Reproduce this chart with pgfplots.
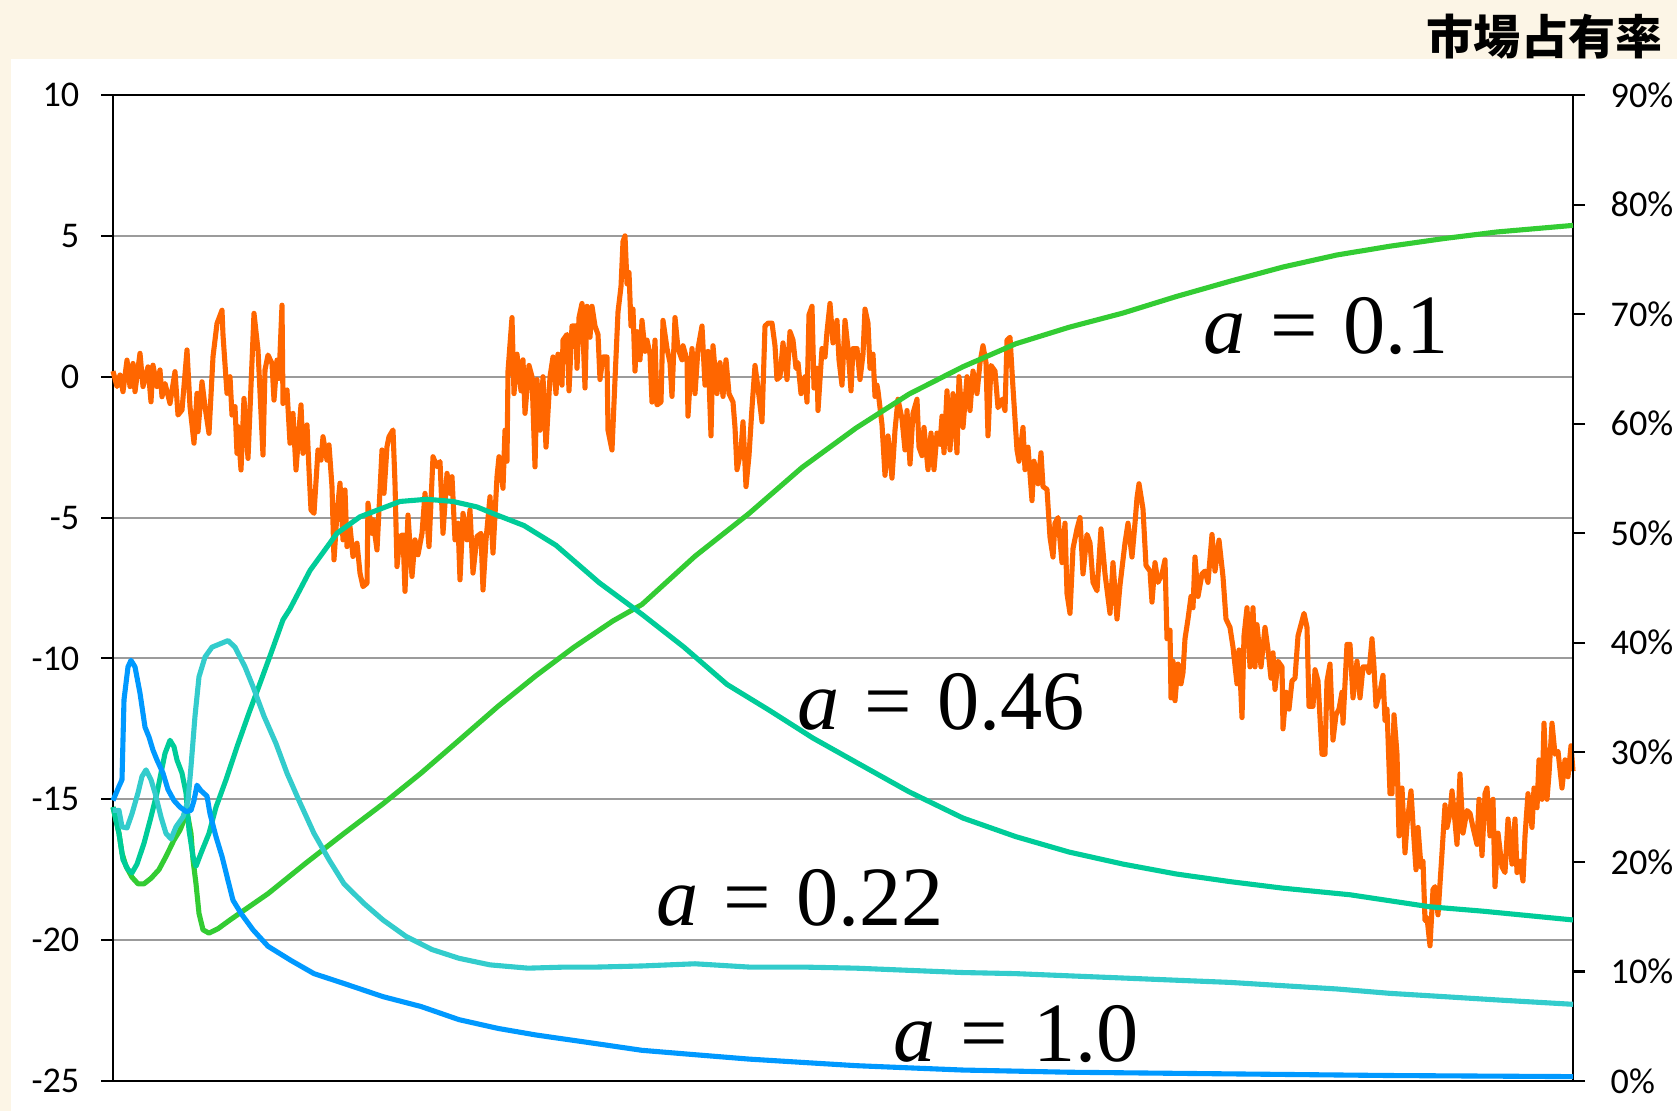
\documentclass[border=0pt]{standalone}
\usepackage{fontspec}
\setmainfont{Carlito}
\newfontfamily\jpfont{Noto Sans CJK JP}
\newfontfamily\tnr{Liberation Serif}
\usepackage{pgfplots}
\pgfplotsset{compat=1.18}

\definecolor{bgcream}{RGB}{252,245,230}
\definecolor{cOrange}{RGB}{255,102,0}
\definecolor{cGreen}{RGB}{51,204,51}
\definecolor{cTeal}{RGB}{0,204,153}
\definecolor{cAqua}{RGB}{51,204,204}
\definecolor{cBlue}{RGB}{0,153,255}
\definecolor{gridgray}{RGB}{155,155,155}

\newcommand{\alab}[1]{\fontsize{24}{28}\selectfont\tnr\textit{a}\hspace{0.3em}=\hspace{0.3em}#1}

\pgfplotsset{
  frame/.style={
    at={(11.3mm,3mm)}, anchor=south west, scale only axis,
    width=146mm, height=98.6mm, xmin=0, xmax=1460, xtick=\empty,
    axis line style={black, line width=0.6pt},
    tick style={black, line width=0.6pt},
    tick align=outside, major tick length=1.2mm,
    ticklabel style={font=\fontsize{10.3}{12}\selectfont},
    clip=false,
  },
  curve/.style={line width=1.45pt, line join=round, mark=none},
}

\begin{document}
\begin{tikzpicture}
\fill[bgcream] (0,0) rectangle (167.7mm,111.1mm);
\fill[white] (1.1mm,0) rectangle (167.7mm,105.2mm);
\node[anchor=east, inner sep=0pt, font={\fontsize{13.4}{16}\selectfont\jpfont\bfseries}] at (166.3mm,107.4mm) {市場占有率};

% left axis: orange series
\begin{axis}[frame,
  ymin=-25, ymax=10, ytick={-25,-20,...,10},
  yticklabels={-25,-20,-15,-10,-5,0,5,10},
  ytick pos=left, ymajorgrids,
  grid style={gridgray, line width=0.6pt},
  yticklabel style={inner sep=0pt, xshift=-2.1mm},
]
\addplot[curve, cOrange] coordinates {
(0,0.2)(4,-0.35)(7,0.06)(10,-0.53)(14,0.59)(17,-0.35)(20,0.47)(22,-0.53)(27,0.83)(30,-0.35)(35,0.35)(38,-0.89)(40,0.41)(44,-0.35)(47,0.24)(49,-0.71)(52,-0.24)(57,-0.95)(62,0.18)(65,-1.36)(69,-1.18)(74,0.95)(77,-1.06)(81,-2.36)(84,-0.59)(85,-1.95)(89,-0.18)(92,-1.06)(96,-2.01)(100,0.71)(104,1.89)(109,2.36)(110,1.48)(114,-0.59)(117,0)(119,-1.36)(122,-1.06)(124,-2.72)(125,-1.77)(128,-3.31)(131,-0.77)(135,-2.90)(141,2.25)(145,0.95)(150,-2.78)(152,0.24)(155,0.77)(159,0.47)(161,-0.83)(164,0.59)(166,-0.06)(169,2.54)(170,-0.95)(174,-0.47)(177,-2.36)(180,-1.30)(183,-3.31)(185,-2.36)(188,-1.00)(190,-2.72)(194,-1.71)(196,-3.31)(198,-4.73)(201,-4.85)(205,-2.60)(208,-2.96)(210,-2.13)(214,-2.96)(216,-2.42)(219,-3.90)(221,-6.50)(224,-4.85)(227,-3.78)(230,-5.79)(232,-4.02)(234,-6.03)(237,-5.32)(240,-6.38)(244,-5.91)(247,-6.97)(250,-7.45)(254,-7.33)(255,-4.49)(259,-5.56)(260,-5.08)(264,-6.15)(266,-4.73)(269,-2.60)(271,-4.14)(274,-2.48)(276,-2.13)(280,-1.89)(282,-3.78)(284,-6.74)(287,-5.67)(290,-5.61)(292,-7.62)(295,-4.91)(299,-7.09)(302,-5.79)(305,-6.32)(309,-5.56)(312,-4.14)(316,-6.03)(320,-2.84)(324,-3.19)(327,-3.01)(330,-5.56)(334,-3.43)(337,-4.14)(339,-3.55)(342,-5.79)(345,-5.20)(347,-7.21)(350,-4.85)(354,-5.79)(357,-4.73)(360,-6.97)(364,-5.67)(368,-5.56)(370,-7.57)(373,-5.79)(377,-4.26)(380,-6.26)(384,-3.55)(386,-2.84)(390,-3.96)
(392,-1.9)(394,-3.0)(395,0.2)(399,2.1)(401,-0.6)(404,0.8)(408,-0.5)(410,0.6)(412,-1.3)(416,0.4)(419,0)(422,-3.2)(424,-0.1)(427,-1.9)(430,0)(433,-2.5)(437,0)(440,0.7)(443,-0.6)(445,0.8)(449,-0.3)(450,1.3)(454,1.5)(456,-0.5)(459,1.8)(463,1.8)(464,0.3)(466,2.1)(469,2.6)(472,-0.4)(474,2.5)(477,1.4)(479,2.5)(482,1.8)(485,1.5)(487,-0.1)(490,0.7)(494,0.7)(495,-1.9)(499,-2.6)(502,-0.1)(505,2.3)(508,3.2)(510,4.8)(512,5.0)(514,3.3)(516,3.7)(518,1.8)(520,2.4)(522,0.2)(524,1.6)(527,0.6)(529,2.0)(532,0.9)(534,1.3)(537,0.8)(539,-0.9)(542,1.3)(544,-1.0)(548,-0.9)(550,2.0)(554,1.0)(557,0.5)(559,-0.7)(562,2.1)(565,1.0)(569,0.6)(570,1.1)(574,0.6)(575,-1.4)(579,1.0)(582,-0.6)(585,1.0)(589,1.8)(592,-0.3)(595,0.9)(598,-2.1)(600,1.1)(604,-0.6)(607,0.5)(610,-0.7)(613,0.6)(616,-0.6)(620,-0.9)(622,-1.8)(624,-3.3)(628,-2.6)(630,-1.6)(633,-3.9)(636,-2.8)(639,-1.1)(642,0.4)(645,-0.4)(649,-1.6)(652,1.8)(655,1.9)(659,1.9)(662,1.1)(664,-0.1)(667,0)(670,1.2)(674,-0.1)(677,1.6)(680,1.3)(683,0.3)(685,0.5)(688,-0.6)(692,0)(694,-0.9)(696,2.2)(699,2.5)(701,-0.4)(704,0.3)(705,-1.2)(709,1.0)(712,0.7)(714,1.6)(717,2.6)(720,1.2)(724,2.0)(726,0.6)(729,-0.3)(732,2.0)(735,1.0)(738,-0.5)(740,1.0)(744,1.0)(747,-0.1)(750,0.8)(752,2.4)(755,1.9)(757,0.3)(760,0.8)(762,-0.7)(764,-0.3)
(765,-0.5)(769,-1.7)(772,-3.5)(775,-2.1)(779,-3.6)(782,-1.9)(785,-0.8)(789,-1.5)(792,-2.6)(794,-1.2)(797,-3.1)(800,-1.3)(804,-0.8)(806,-2.5)(809,-2.8)(811,-1.8)(815,-3.3)(818,-2.0)(821,-3.3)(824,-2.0)(827,-2.4)(829,-1.4)(831,-2.7)(834,-0.5)(837,-2.6)(840,-0.6)(844,-2.7)(846,0)(850,-1.8)(854,0)(857,-1.2)(860,0.2)(864,-0.6)(867,0.5)(870,1.1)(873,0.5)(875,-2.1)(878,0.4)(882,0.2)(885,-1.1)(889,-0.8)(892,-1.2)(894,1.3)(897,1.4)(900,-0.4)(904,-2.6)(906,-3.0)(910,-1.8)(912,-3.3)(915,-2.5)(919,-4.4)(921,-3.0)(925,-3.8)(928,-2.7)(930,-3.9)(934,-4.0)(937,-5.7)(940,-6.4)(942,-5.2)(945,-5.0)(949,-6.6)(952,-5.2)(954,-7.7)(957,-8.4)(960,-6.1)(964,-5.4)(967,-5.0)(970,-7.0)(974,-5.6)(977,-5.9)(980,-7.3)(984,-7.6)(988,-5.4)(992,-7.0)(997,-8.4)(1000,-6.6)(1004,-8.6)(1007,-7.4)(1012,-5.9)(1015,-5.2)(1019,-6.4)(1022,-5.2)(1024,-4.3)(1026,-3.8)(1030,-4.7)(1033,-6.7)(1037,-6.9)(1039,-8.0)(1042,-6.6)(1045,-7.3)(1049,-7.0)(1052,-6.5)
(1054,-9.3)(1057,-9.0)(1058,-11.4)(1060,-10.1)(1062,-11.5)(1065,-10.2)(1068,-10.9)(1070,-10.5)(1072,-9.3)(1075,-8.6)(1078,-7.8)(1080,-8.2)(1082,-6.4)(1085,-7.8)(1089,-7.0)(1092,-6.9)(1095,-7.3)(1099,-5.6)(1102,-6.9)(1106,-5.8)(1110,-7.1)(1113,-8.6)(1117,-8.9)(1120,-9.6)(1124,-10.9)(1126,-9.7)(1129,-12.1)(1131,-9.2)(1134,-8.2)
(1137,-10.3)(1140,-8.2)(1142,-10.3)(1144,-8.8)(1148,-10.3)(1152,-8.9)(1155,-9.7)(1158,-10.7)(1160,-9.8)(1162,-11.1)(1165,-10.1)(1169,-10.3)(1170,-12.5)(1173,-11.2)(1176,-11.8)(1179,-10.8)(1182,-10.7)(1185,-9.2)(1188,-8.8)(1191,-8.4)(1194,-8.9)(1196,-11.7)(1200,-11.7)(1202,-10.4)(1205,-10.8)(1209,-13.4)(1212,-13.4)(1214,-10.8)(1217,-10.2)(1220,-12.9)(1223,-12.0)(1226,-11.8)(1229,-11.2)(1230,-12.3)(1234,-9.5)(1237,-9.5)(1240,-11.4)(1244,-10.1)(1247,-11.4)(1250,-10.3)(1254,-10.3)(1256,-10.5)(1259,-9.3)(1261,-10.3)(1263,-11.7)(1267,-11.2)(1270,-10.6)(1272,-12.2)(1274,-11.8)(1277,-14.8)(1279,-14.8)(1281,-12.0)(1284,-13.4)(1286,-16.3)(1289,-14.6)(1292,-16.9)(1294,-15.9)(1298,-14.7)(1300,-15.9)(1303,-17.5)(1305,-16.0)(1308,-17.4)(1310,-17.2)(1312,-19.3)(1314,-19.2)(1317,-20.2)(1320,-18.2)(1322,-18.1)(1325,-19.1)(1329,-16.9)(1332,-15.2)(1334,-16.0)(1337,-15.5)(1339,-14.7)(1341,-15.4)(1344,-16.6)(1347,-14.1)(1350,-16.2)(1354,-15.4)(1357,-15.5)(1360,-16.0)(1364,-16.6)(1366,-15.0)(1369,-17.0)(1372,-14.8)(1374,-14.6)(1377,-16.3)(1380,-15.0)(1382,-18.1)(1385,-16.2)(1389,-17.4)(1392,-17.6)(1395,-15.7)(1399,-17.3)(1402,-15.7)(1404,-17.6)(1407,-17.2)(1410,-17.9)(1412,-16.3)(1415,-14.8)(1419,-16.0)(1421,-14.6)(1424,-15.3)(1426,-13.6)(1429,-15.0)(1431,-12.3)(1434,-15.0)(1436,-14.1)(1439,-12.3)(1442,-13.4)(1445,-13.3)(1449,-14.6)(1452,-13.6)(1455,-14.2)(1458,-13.1)(1460,-14.0)
};
\end{axis}

% right axis: market share
\begin{axis}[frame,
  ymin=0, ymax=90, ytick={0,10,...,90},
  yticklabels={0\%,10\%,20\%,30\%,40\%,50\%,60\%,70\%,80\%,90\%},
  axis x line=none, axis y line*=right,
  yticklabel style={inner sep=0pt, xshift=2.5mm},
]
\addplot[curve, cGreen] coordinates {
(0,25.0)(6,22.6)(9,20.8)(13,19.6)(19,18.6)(25,18.0)(31,18.0)(38,18.5)(46,19.3)(53,20.5)(61,22.0)(67,22.9)(71,23.8)(75,24.1)(78,22.6)(80,20.2)(83,18.0)(86,15.3)(90,13.8)(96,13.5)(105,13.9)(117,14.7)(136,15.9)(155,17.1)(193,19.9)(231,22.6)(270,25.3)(308,28.1)(346,31.1)(385,34.2)(423,37.0)(461,39.6)(500,42.0)(529,43.5)(582,47.9)(636,51.8)(689,56.0)(743,59.6)(796,62.7)(850,65.2)(903,67.3)(956,68.8)(1010,70.1)(1063,71.6)(1117,73.0)(1170,74.3)(1224,75.4)(1277,76.2)(1331,76.9)(1384,77.5)(1460,78.1)
};
\addplot[curve, cTeal] coordinates {
(0,25.0)(6,22.6)(10,20.2)(15,19.3)(19,19.0)(24,19.8)(31,21.7)(38,24.1)(44,26.3)(48,28.1)(52,29.9)(57,31.1)(61,30.5)(64,29.3)(69,28.1)(73,26.3)(76,22.9)(80,20.5)(83,19.6)(88,20.8)(96,22.6)(103,25.0)(113,27.5)(124,30.5)(136,33.6)(147,36.3)(159,39.3)(170,42.1)(177,43.1)(197,46.6)(224,50.0)(247,51.5)(264,52.1)(287,52.9)(314,53.1)(340,52.9)(364,52.4)(380,51.8)(397,51.2)(411,50.7)(443,48.9)(486,45.5)(529,42.6)(571,39.6)(614,36.2)(657,33.8)(700,31.3)(743,29.1)(796,26.4)(850,24.0)(903,22.3)(956,20.9)(1010,19.8)(1063,18.9)(1117,18.2)(1170,17.6)(1237,17.0)(1317,15.9)(1370,15.5)(1460,14.7)
};
\addplot[curve, cAqua] coordinates {
(0,24.7)(6,24.7)(9,23.2)(14,23.1)(19,24.4)(25,26.3)(29,27.8)(33,28.4)(38,27.5)(42,26.3)(48,24.1)(53,22.6)(58,22.1)(63,23.2)(70,24.1)(75,25.6)(78,28.7)(82,33.3)(86,36.9)(92,38.7)(99,39.6)(107,39.9)(115,40.2)(122,39.6)(132,37.8)(140,36.0)(151,33.3)(163,30.8)(174,28.1)(186,25.6)(201,22.6)(216,20.2)(231,18.0)(251,16.2)(270,14.7)(293,13.2)(319,12.0)(346,11.2)(377,10.6)(415,10.3)(453,10.4)(484,10.4)(529,10.5)(582,10.7)(636,10.4)(689,10.4)(743,10.3)(796,10.1)(850,9.9)(903,9.8)(956,9.6)(1010,9.4)(1063,9.2)(1117,9.0)(1170,8.7)(1224,8.4)(1277,8.0)(1331,7.7)(1384,7.4)(1460,7.0)
};
\addplot[curve, cBlue] coordinates {
(0,25.6)(6,26.9)(9,27.5)(11,34.8)(15,37.8)(18,38.4)(22,37.8)(27,35.4)(32,32.3)(36,31.4)(40,30.2)(44,29.3)(50,28.1)(55,26.6)(61,25.6)(67,25.0)(73,24.6)(78,24.7)(81,25.6)(84,27.0)(88,26.5)(94,26.0)(97,24.4)(103,22.3)(109,20.5)(115,18.3)(120,16.5)(128,15.3)(140,13.8)(155,12.3)(178,11.0)(201,9.8)(231,8.9)(270,7.7)(308,6.8)(346,5.6)(385,4.8)(423,4.2)(484,3.4)(529,2.8)(582,2.4)(636,2.0)(689,1.7)(743,1.4)(796,1.2)(850,1.0)(956,0.8)(1063,0.7)(1170,0.6)(1277,0.5)(1460,0.4)
};
\node at (axis cs:1213,68.9) {\alab{0.1}};
\node at (axis cs:828,34.6) {\alab{0.46}};
\node at (axis cs:687,16.7) {\alab{0.22}};
\node at (axis cs:903,4.3) {\alab{1.0}};
\end{axis}
\pgfresetboundingbox
\useasboundingbox (0,0) rectangle (167.7mm,111.1mm);
\end{tikzpicture}
\end{document}
